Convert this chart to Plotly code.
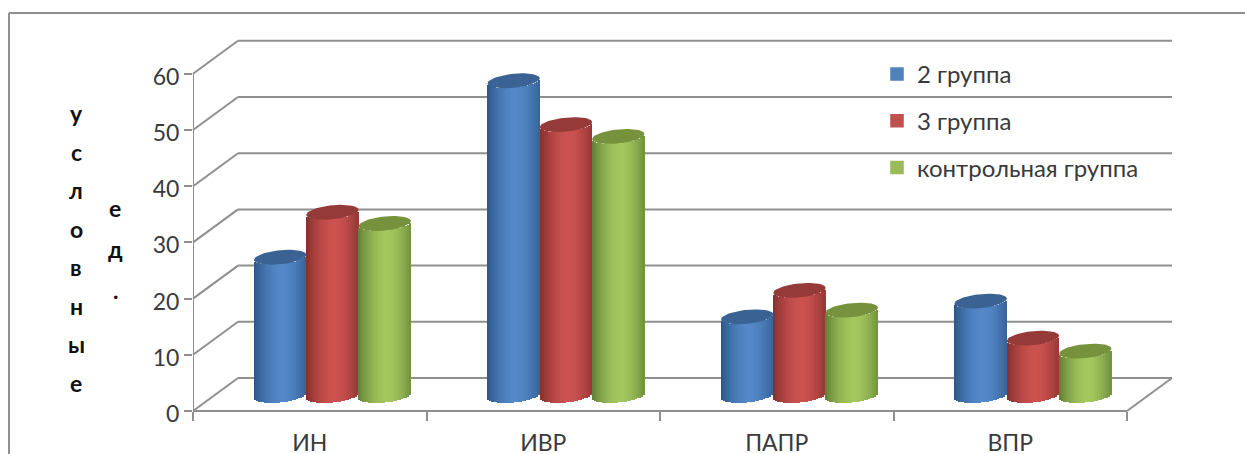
import numpy as np
import plotly.graph_objects as go

# ---- data ----
categories = ["ИН", "ИВР", "ПАПР", "ВПР"]
group_2 = [24.6, 56.0, 14.0, 16.8]
group_3 = [32.6, 48.2, 18.7, 10.2]
group_control = [30.6, 46.1, 15.2, 7.9]
series_names = ["2 группа", "3 группа", "контрольная группа"]
tick_values = [0, 10, 20, 30, 40, 50, 60]
title_col_1 = list("условные")
title_col_2 = ["е", "д", "."]

# ---- style ----
GREY = "#8f8f8f"
TEXT = "#3a3a3a"
FONT = "Lato"
mid_colors = [(84, 136, 200), (204, 82, 80), (164, 200, 94)]
side_colors = [(44, 86, 136), (132, 48, 46), (98, 126, 54)]
top_colors = ["#3a6394", "#953a38", "#76923c"]
legend_colors = ["#4f81bd", "#c0504d", "#9bbb59"]

# ---- figure geometry, in pixels ----
W, H = 1245, 454
PL, PR, PT, PB = 193, 1172, 40, 411      # plot box
CAT_PX = 233.5                           # px per category on the front axis
UNIT_PX = 5.62                           # px per value unit
DEPTH_X, DEPTH_Y = 45, 33                # back wall offset
x_range = [-0.5, -0.5 + (PR - PL) / CAT_PX]
y_range = [0, (PB - PT) / UNIT_PX]
bar_w = 52.3 / CAT_PX
group_shift = 22.7 / CAT_PX
base_plane = 15.5 / UNIT_PX
tilt = 2.5 / UNIT_PX
ry = 7.0 / UNIT_PX
N_STRIPS = 26


def xp(px):
    return (px - PL) / (PR - PL)


def yp(py):
    return (PB - py) / (PB - PT)


def shade(mid, side, u):
    k = np.clip(abs(u - 0.08) / 1.08, 0, 1) ** 1.7
    c = [round(m + (s - m) * k) for m, s in zip(mid, side)]
    return f"rgb({c[0]},{c[1]},{c[2]})"


fig = go.Figure()
all_series = [group_2, group_3, group_control]
cat_x = np.arange(len(categories), dtype=float)

# legend-bearing bars (narrow core, overpainted by the shaded strips)
for i, vals in enumerate(all_series):
    xs = cat_x + group_shift + (i - 1) * bar_w
    fig.add_trace(go.Bar(
        x=xs, y=vals, base=base_plane, width=bar_w * 0.5,
        name=series_names[i], legendgroup=series_names[i],
        marker=dict(color=legend_colors[i], line=dict(width=1.5, color=legend_colors[i])),
        hoverinfo="skip",
    ))
    # cylinder body: same height as the value, base follows the front arc
    edges = np.linspace(-1, 1, N_STRIPS + 1)
    centers = (edges[:-1] + edges[1:]) / 2
    strip_w = bar_w / N_STRIPS
    for u in centers:
        arc = tilt * u - ry * np.sqrt(max(1 - u * u, 0))
        fig.add_trace(go.Bar(
            x=xs + u * bar_w / 2, y=vals, base=base_plane + arc,
            width=strip_w * 1.2,
            marker=dict(color=shade(mid_colors[i], side_colors[i], u), line=dict(width=0)),
            showlegend=False, hoverinfo="skip",
        ))

# cylinder tops
theta = np.linspace(0, 2 * np.pi, 61)
for i, vals in enumerate(all_series):
    xs = cat_x + group_shift + (i - 1) * bar_w
    for cx, v in zip(xs, vals):
        fig.add_trace(go.Scatter(
            x=cx + bar_w / 2 * np.cos(theta),
            y=base_plane + v + tilt * np.cos(theta) + ry * np.sin(theta),
            mode="lines", fill="toself", fillcolor=top_colors[i],
            line=dict(width=0, color=top_colors[i]),
            showlegend=False, hoverinfo="skip",
        ))

# front axes (on a twin x axis that carries the category-boundary ticks)
fig.add_trace(go.Scatter(
    x=[x_range[0], x_range[0]], y=[0, tick_values[-1]], xaxis="x2", mode="lines",
    line=dict(color=GREY, width=2), cliponaxis=False, showlegend=False, hoverinfo="skip",
))

# wall and floor lines, behind the bars
shapes = []
line = dict(color=GREY, width=2)
for v in tick_values:
    py = PB - v * UNIT_PX
    shapes.append(dict(type="line", xref="paper", yref="paper", layer="below",
                       x0=xp(PL), y0=yp(py), x1=xp(PL + DEPTH_X), y1=yp(py - DEPTH_Y), line=line))
    shapes.append(dict(type="line", xref="paper", yref="paper", layer="below",
                       x0=xp(PL + DEPTH_X), y0=yp(py - DEPTH_Y), x1=xp(PR), y1=yp(py - DEPTH_Y), line=line))
front_right = PL + CAT_PX * len(categories)
shapes.append(dict(type="line", xref="paper", yref="paper", layer="below",
                   x0=xp(PL), y0=yp(PB), x1=xp(front_right), y1=yp(PB), line=line))
shapes.append(dict(type="line", xref="paper", yref="paper", layer="below",
                   x0=xp(front_right), y0=yp(PB), x1=xp(PR), y1=yp(PB - DEPTH_Y), line=line))
# outer chart frame
for x0, y0, x1, y1 in [(9, 13, W, 13), (9, 13, 9, H)]:
    shapes.append(dict(type="line", xref="paper", yref="paper", layer="below",
                       x0=xp(x0), y0=yp(y0), x1=xp(x1), y1=yp(y1),
                       line=dict(color=GREY, width=2)))

# stacked bold axis title letters
annotations = []
for letters, px, start, step in [(title_col_1, 76, 113, 38.5), (title_col_2, 115, 208, 41)]:
    for k, ch in enumerate(letters):
        annotations.append(dict(
            text=ch, xref="paper", yref="paper", x=xp(px), y=yp(start + k * step),
            xanchor="center", yanchor="middle", showarrow=False,
            font=dict(family=FONT, size=23, color="#111111", weight="bold"),
        ))

fig.update_layout(
    width=W, height=H, autosize=False,
    margin=dict(l=PL, r=W - PR, t=PT, b=H - PB, pad=0, autoexpand=False),
    paper_bgcolor="white", plot_bgcolor="rgba(0,0,0,0)",
    barmode="overlay", bargap=0,
    font=dict(family=FONT, size=23, color=TEXT),
    shapes=shapes, annotations=annotations,
    xaxis=dict(
        range=x_range, tickmode="array", tickvals=list(cat_x), ticktext=categories,
        showgrid=False, zeroline=False, showline=False, automargin=False,
        ticks="outside", ticklen=11, tickcolor="rgba(0,0,0,0)",
        tickfont=dict(family=FONT, size=23, color=TEXT),
    ),
    xaxis2=dict(
        range=x_range, overlaying="x", anchor="y", side="bottom",
        tickmode="array", tickvals=[-0.5 + j for j in range(len(categories) + 1)],
        showticklabels=False, showgrid=False, zeroline=False, showline=False, automargin=False,
        ticks="outside", ticklen=9, tickwidth=2, tickcolor=GREY,
    ),
    yaxis=dict(
        range=y_range, tickmode="array", tickvals=tick_values,
        showgrid=False, zeroline=False, showline=False, automargin=False,
        ticks="outside", ticklen=8, tickwidth=2, tickcolor=GREY,
        ticklabelshift=3,
        tickfont=dict(family=FONT, size=23, color=TEXT),
    ),
    legend=dict(
        x=xp(877), y=yp(52), xanchor="left", yanchor="top",
        bgcolor="rgba(0,0,0,0)", tracegroupgap=12.5,
        font=dict(family=FONT, size=24, color=TEXT),
    ),
)

fig.write_html("out.html", config=dict(displayModeBar=False),
               post_script="document.body.style.margin='0';document.body.style.overflow='hidden';")
